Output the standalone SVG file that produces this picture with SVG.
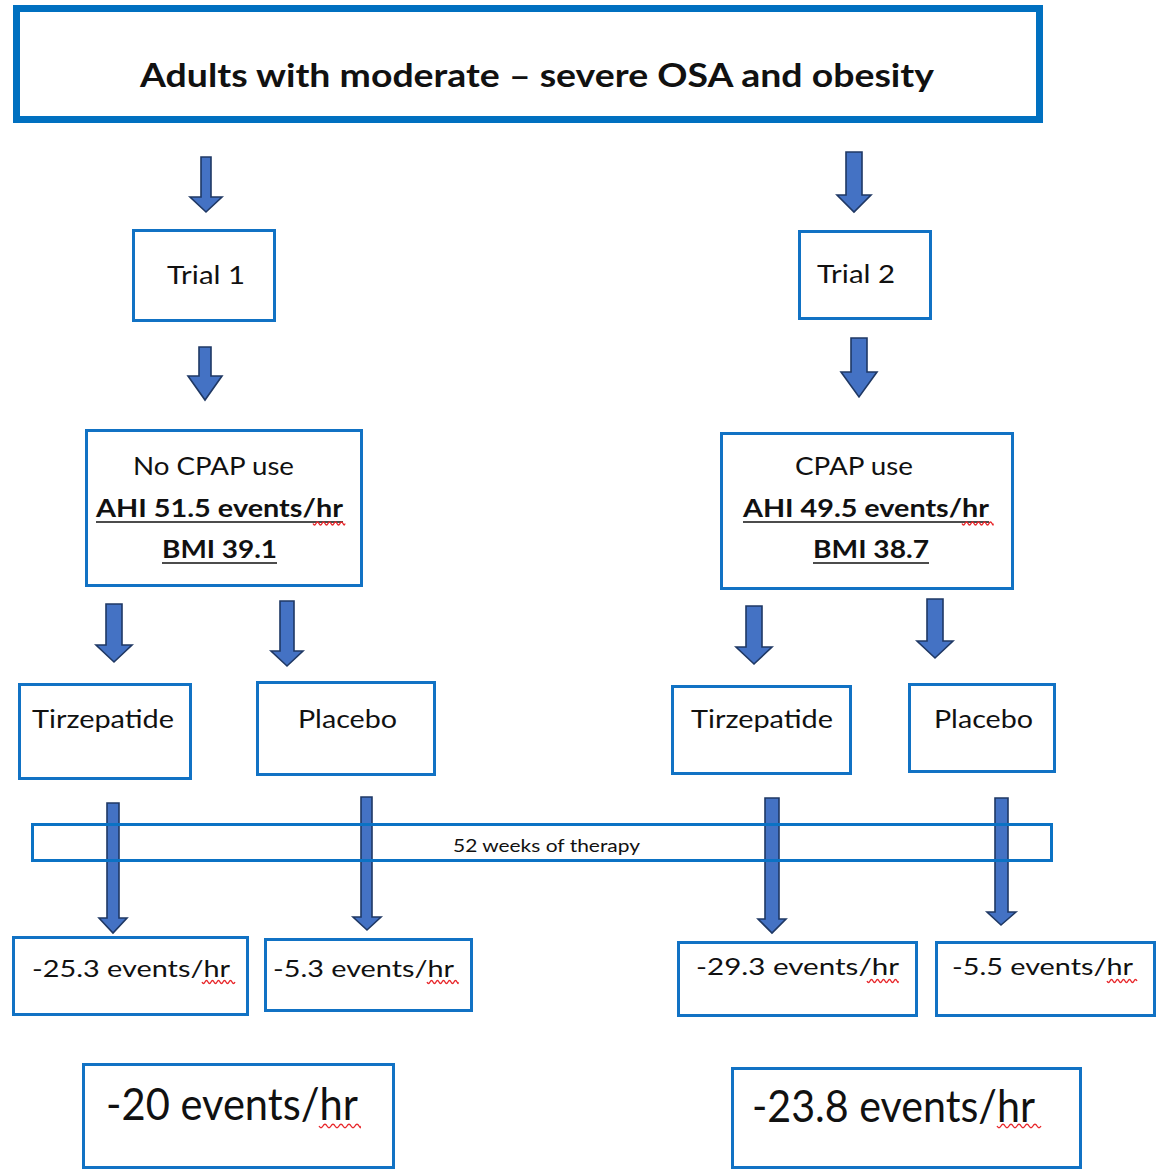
<svg xmlns="http://www.w3.org/2000/svg" width="1157" height="1169" viewBox="0 0 1157 1169">
<style>
  .box { fill: #ffffff; stroke: #1172c4; stroke-width: 3; }
  .band { fill: none; stroke: #0b72c4; stroke-width: 3; }
  .top { fill: #ffffff; stroke: #0070c0; stroke-width: 7; }
  .arr { fill: #4472c4; stroke: #1f3864; stroke-width: 1.6; stroke-linejoin: miter; }
  text { font-family: Lato, "Liberation Sans", sans-serif; fill: #111111; }
  .t { font-size: 25px; }
  .b { font-size: 25px; font-weight: bold; }
  .r { font-size: 24px; }
  .big { font-size: 44px; }
  .title { font-size: 32px; font-weight: bold; }
  .small { font-size: 16.5px; }
  .ul { stroke: #111111; stroke-width: 1.5; fill: none; }
  .sq { stroke: #e8262a; stroke-width: 1.3; fill: none; }
</style>
<rect width="1157" height="1169" fill="#ffffff"/>
<g id="connectors">
  <polygon class="arr" points="201,157 211,157 211,197 222,197 206,212 190,197 201,197"/>
  <polygon class="arr" points="199,347 211,347 211,376 222,376 205,400 188,376 199,376"/>
  <polygon class="arr" points="846,152 862,152 862,195 871,195 854,212 837,195 846,195"/>
  <polygon class="arr" points="851,338 867,338 867,372 877,372 859,397 841,372 851,372"/>
  <polygon class="arr" points="106,604 122,604 122,645 132,645 114,662 96,645 106,645"/>
  <polygon class="arr" points="280,601 294,601 294,651 303,651 287,666 271,651 280,651"/>
  <polygon class="arr" points="746,606 762,606 762,647 772,647 754,664 736,647 746,647"/>
  <polygon class="arr" points="927,599 943,599 943,641 953,641 935,658 917,641 927,641"/>
  <polygon class="arr" points="107,803 119,803 119,918 127,918 113,933 99,918 107,918"/>
  <polygon class="arr" points="361,797 372,797 372,917 381,917 367,930 353,917 361,917"/>
  <polygon class="arr" points="765,798 779,798 779,919 786,919 772,933 758,919 765,919"/>
  <polygon class="arr" points="995,798 1008,798 1008,912 1016,912 1001,925 987,912 995,912"/>
</g>
<g id="node-top">
  <rect class="top" x="16.5" y="8.5" width="1023" height="111"/>
  <text class="title" x="140" y="87" textLength="794" lengthAdjust="spacingAndGlyphs">Adults with moderate – severe OSA and obesity</text>
</g>
<g id="node-trial1">
  <rect class="box" x="133.5" y="230.5" width="141" height="90"/>
  <text class="t" x="167" y="284" textLength="78" lengthAdjust="spacingAndGlyphs">Trial 1</text>
</g>
<g id="node-trial2">
  <rect class="box" x="799.5" y="231.5" width="131" height="87"/>
  <text class="t" x="817" y="283" textLength="78" lengthAdjust="spacingAndGlyphs">Trial 2</text>
</g>
<g id="node-nocpap">
  <rect class="box" x="86.5" y="430.5" width="275" height="155"/>
  <text class="t" x="133" y="475" textLength="161" lengthAdjust="spacingAndGlyphs">No CPAP use</text>
  <text class="b" x="96" y="517" textLength="247" lengthAdjust="spacingAndGlyphs">AHI 51.5 events/hr</text>
  <line class="ul" x1="96" y1="522" x2="343" y2="522"/>
  <path class="sq" d="M313,523.5 q1.5,3 3,0 t3,0 t3,0 t3,0 t3,0 t3,0 t3,0 t3,0 t3,0 t3,0 t2,0"/>
  <text class="b" x="162" y="558" textLength="115" lengthAdjust="spacingAndGlyphs">BMI 39.1</text>
  <line class="ul" x1="162" y1="563" x2="277" y2="563"/>
</g>
<g id="node-cpap">
  <rect class="box" x="721.5" y="433.5" width="291" height="155"/>
  <text class="t" x="795" y="475" textLength="118" lengthAdjust="spacingAndGlyphs">CPAP use</text>
  <text class="b" x="743" y="517" textLength="246" lengthAdjust="spacingAndGlyphs">AHI 49.5 events/hr</text>
  <line class="ul" x1="743" y1="522" x2="989" y2="522"/>
  <path class="sq" d="M962,523.5 q1.5,3 3,0 t3,0 t3,0 t3,0 t3,0 t3,0 t3,0 t3,0 t3,0 t3,0 t1,0"/>
  <text class="b" x="813" y="558" textLength="116" lengthAdjust="spacingAndGlyphs">BMI 38.7</text>
  <line class="ul" x1="813" y1="563" x2="929" y2="563"/>
</g>
<g id="node-tirz1">
  <rect class="box" x="19.5" y="684.5" width="171" height="94"/>
  <text class="t" x="32" y="728" textLength="142" lengthAdjust="spacingAndGlyphs">Tirzepatide</text>
</g>
<g id="node-plac1">
  <rect class="box" x="257.5" y="682.5" width="177" height="92"/>
  <text class="t" x="298" y="728" textLength="99" lengthAdjust="spacingAndGlyphs">Placebo</text>
</g>
<g id="node-tirz2">
  <rect class="box" x="672.5" y="686.5" width="178" height="87"/>
  <text class="t" x="691" y="728" textLength="142" lengthAdjust="spacingAndGlyphs">Tirzepatide</text>
</g>
<g id="node-plac2">
  <rect class="box" x="909.5" y="684.5" width="145" height="87"/>
  <text class="t" x="934" y="728" textLength="99" lengthAdjust="spacingAndGlyphs">Placebo</text>
</g>
<g id="node-therapy">
  <rect class="band" x="32.5" y="824.5" width="1019" height="36"/>
  <text class="small" x="453" y="852" textLength="187" lengthAdjust="spacingAndGlyphs">52 weeks of therapy</text>
</g>
<g id="node-res1">
  <rect class="box" x="13.5" y="937.5" width="234" height="77"/>
  <text class="r" x="32" y="977" textLength="198" lengthAdjust="spacingAndGlyphs">-25.3 events/hr</text>
  <path class="sq" d="M202,982 q1.5,3 3,0 t3,0 t3,0 t3,0 t3,0 t3,0 t3,0 t3,0 t3,0 t3,0 t3,0"/>
</g>
<g id="node-res2">
  <rect class="box" x="265.5" y="939.5" width="206" height="71"/>
  <text class="r" x="273" y="977" textLength="181" lengthAdjust="spacingAndGlyphs">-5.3 events/hr</text>
  <path class="sq" d="M427,982 q1.5,3 3,0 t3,0 t3,0 t3,0 t3,0 t3,0 t3,0 t3,0 t3,0 t3,0 t1,0"/>
</g>
<g id="node-res3">
  <rect class="box" x="678.5" y="942.5" width="238" height="73"/>
  <text class="r" x="696" y="975" textLength="203" lengthAdjust="spacingAndGlyphs">-29.3 events/hr</text>
  <path class="sq" d="M867,981 q1.5,3 3,0 t3,0 t3,0 t3,0 t3,0 t3,0 t3,0 t3,0 t3,0 t3,0 t1,0"/>
</g>
<g id="node-res4">
  <rect class="box" x="936.5" y="942.5" width="218" height="73"/>
  <text class="r" x="952" y="975" textLength="181" lengthAdjust="spacingAndGlyphs">-5.5 events/hr</text>
  <path class="sq" d="M1107,981 q1.5,3 3,0 t3,0 t3,0 t3,0 t3,0 t3,0 t3,0 t3,0 t3,0 t3,0"/>
</g>
<g id="node-diff1">
  <rect class="box" x="83.5" y="1064.5" width="310" height="103"/>
  <text class="big" x="106" y="1120" textLength="252" lengthAdjust="spacingAndGlyphs">-20 events/hr</text>
  <path class="sq" d="M319,1126 q2,3.5 4,0 t4,0 t4,0 t4,0 t4,0 t4,0 t4,0 t4,0 t4,0 t4,0 t1,0"/>
</g>
<g id="node-diff2">
  <rect class="box" x="732.5" y="1068.5" width="348" height="99"/>
  <text class="big" x="752" y="1122" textLength="283" lengthAdjust="spacingAndGlyphs">-23.8 events/hr</text>
  <path class="sq" d="M997,1126 q2,3.5 4,0 t4,0 t4,0 t4,0 t4,0 t4,0 t4,0 t4,0 t4,0 t4,0 t4,0"/>
</g>
</svg>
